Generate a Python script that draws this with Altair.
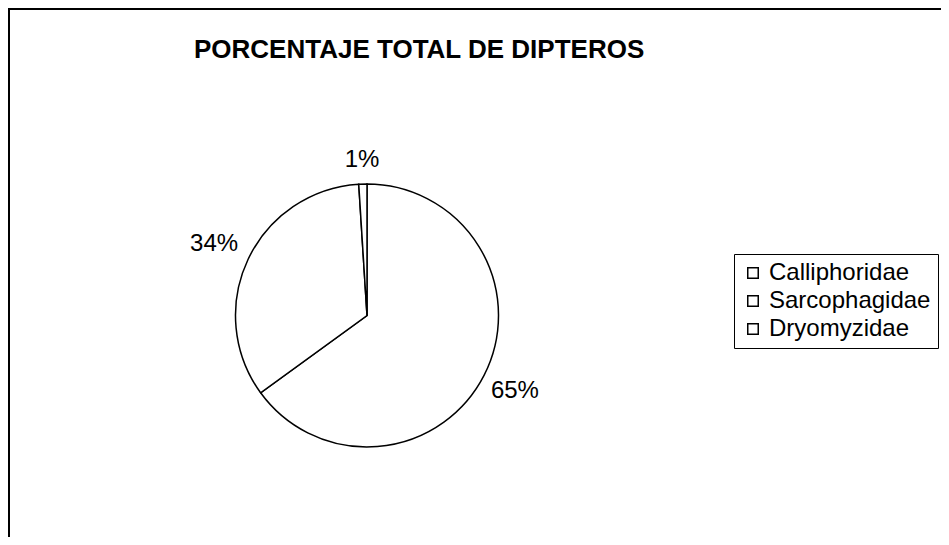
import altair as alt
import pandas as pd

categories = ["Calliphoridae", "Sarcophagidae", "Dryomyzidae"]
percentages = [65, 34, 1]
labels = ["65%", "34%", "1%"]
order_idx = [0, 1, 2]

df = pd.DataFrame({"familia": categories, "pct": percentages, "label": labels, "orden": order_idx})

W, H = 933, 529
CX, CY = 359, 307.5
FONT = "Liberation Sans"
LABEL_RADIUS = {"65%": 166, "34%": 169, "1%": 156}

pie = alt.Chart(df).mark_arc(radius=131.5, stroke="black", strokeWidth=1.5).encode(
    theta=alt.Theta("pct:Q", stack=True),
    order=alt.Order("orden:Q"),
    x=alt.value(CX),
    y=alt.value(CY),
    color=alt.Color(
        "familia:N",
        sort=categories,
        scale=alt.Scale(domain=categories, range=["white", "white", "white"]),
        legend=alt.Legend(
            title=None,
            orient="none",
            legendX=726,
            legendY=246,
            labelFontSize=24,
            labelFont=FONT,
            labelColor="black",
            labelOffset=4,
            symbolType="square",
            symbolSize=110,
            symbolStrokeColor="black",
            symbolStrokeWidth=1.5,
            symbolFillColor="white",
            rowPadding=4,
            padding=7,
            strokeColor="black",
            fillColor="white",
            labelLimit=400,
        ),
    ),
)

text_base = (
    alt.Chart(df)
    .transform_window(cum="sum(pct)", sort=[alt.SortField("orden")], frame=[None, 0])
    .transform_calculate(mid="datum.cum - datum.pct / 2")
)

text_layers = []
for lab in labels:
    text_layers.append(
        text_base.transform_filter(alt.datum.label == lab)
        .mark_text(radius=LABEL_RADIUS[lab], fontSize=24, font=FONT, color="black")
        .encode(
            theta=alt.Theta("mid:Q", stack=None, scale=alt.Scale(domain=[0, 100])),
            x=alt.value(CX),
            y=alt.value(CY),
            text="label:N",
        )
    )

frame_top = alt.Chart(df).mark_rule(color="black", strokeWidth=2).encode(
    x=alt.value(0), x2=alt.value(W), y=alt.value(1)
)
frame_left = alt.Chart(df).mark_rule(color="black", strokeWidth=2).encode(
    x=alt.value(1), y=alt.value(0), y2=alt.value(H)
)

chart = (
    alt.layer(frame_top, frame_left, pie, *text_layers)
    .resolve_scale(theta="independent")
    .properties(
        width=W,
        height=H,
        autosize=alt.AutoSizeParams(type="none"),
        padding=0,
        title=alt.TitleParams(
            "PORCENTAJE TOTAL DE DIPTEROS",
            fontSize=26,
            font=FONT,
            fontWeight="bold",
            color="black",
            anchor="start",
            dx=187,
            dy=60,
        ),
    )
    .configure_view(stroke=None)
    .configure(background="white")
)

chart.save("out.html", embed_options={"renderer": "svg", "actions": False})
